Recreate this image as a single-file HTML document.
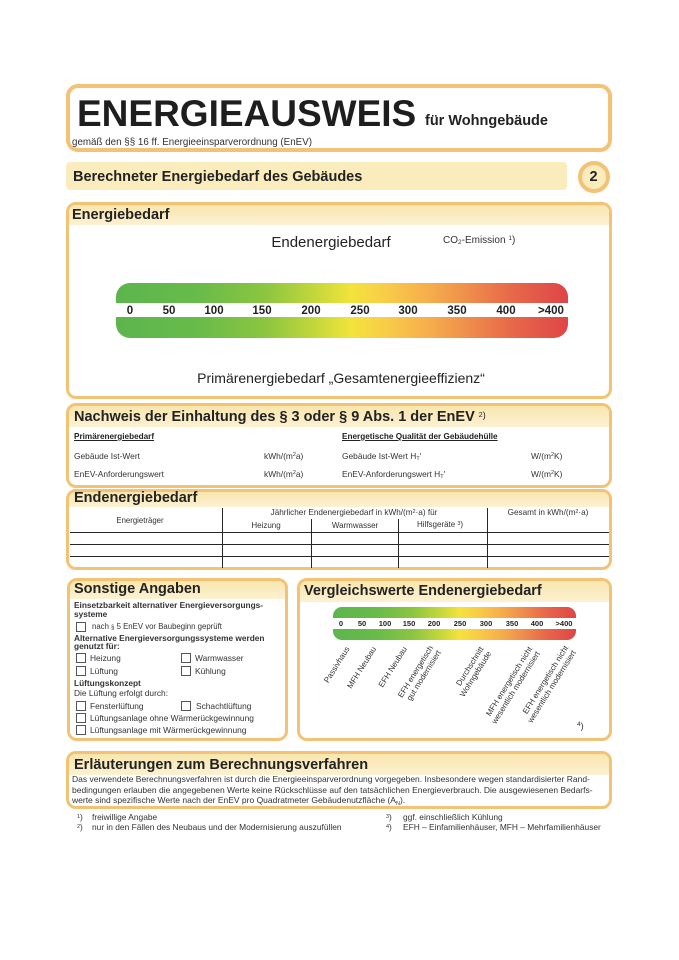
<!DOCTYPE html>
<html><head><meta charset="utf-8">
<style>
html,body{margin:0;padding:0;background:#fff;}
#pg{position:relative;width:679px;height:960px;overflow:hidden;background:#fff;font-family:"Liberation Sans",Arial,sans-serif;}
.t{position:absolute;white-space:nowrap;line-height:1;color:#222;}
.b{font-weight:bold;}
.c{text-align:center;width:240px;margin-left:-120px;}
.box{position:absolute;box-sizing:border-box;border:3.5px solid #f2c275;border-radius:10px;background:#fff;overflow:hidden;}
.band{position:absolute;left:0;right:0;top:0;background:linear-gradient(to bottom,#f9e6ae,#fcf1d2);}
.ln{position:absolute;background:#262626;}
.cb{position:absolute;width:8px;height:8px;border:1px solid #555;background:#fff;}
.sup{position:relative;top:-0.45em;font-size:0.65em;}
.sub{position:relative;top:0.25em;font-size:0.65em;}
.rl{position:absolute;white-space:nowrap;font-size:8px;line-height:9px;color:#333;text-align:right;transform-origin:100% 0;transform:rotate(-58deg);}
.n1{position:absolute;font-size:11.5px;font-weight:bold;color:#222;line-height:1;width:40px;margin-left:-20px;text-align:center;top:306px;}
.n2{position:absolute;font-size:7.5px;font-weight:bold;color:#222;line-height:1;width:30px;margin-left:-15px;text-align:center;top:620px;}
.grad{background:linear-gradient(to right,#5cb54c 0%,#68bb4a 18%,#8cc540 33%,#c3d73b 44%,#f3e33c 52%,#f8cb48 60%,#f5ab4c 70%,#ef8d4c 78%,#e86a4a 87%,#de4547 100%);}
.s{font-size:8.4px;color:#333;}
.sb{font-size:8.3px;color:#333;font-weight:bold;}
</style></head><body>
<div id="pg">

<!-- Header -->
<div class="box" style="left:66px;top:84px;width:546px;height:68px;border-width:4px;border-radius:12px;"></div>
<div class="t b" style="left:77px;top:94.5px;font-size:37px;color:#1e1e1e;">ENERGIEAUSWEIS</div>
<div class="t b" style="left:425px;top:113.7px;font-size:14.5px;">für Wohngebäude</div>
<div class="t" style="left:72px;top:137.7px;font-size:9.8px;color:#333;">gemäß den §§ 16 ff. Energieeinsparverordnung (EnEV)</div>

<!-- Section bar -->
<div style="position:absolute;left:66px;top:162px;width:501px;height:28px;background:#fbecbe;border-radius:4px;"></div>
<div class="t b" style="left:73px;top:169.7px;font-size:14.5px;">Berechneter Energiebedarf des Gebäudes</div>
<div style="position:absolute;left:578px;top:161px;width:32px;height:32px;box-sizing:border-box;border:4px solid #f2c275;border-radius:50%;background:#fbecbe;"></div>
<div class="t b" style="left:589.5px;top:170px;font-size:14.5px;">2</div>

<!-- Energiebedarf -->
<div class="box" style="left:66px;top:202px;width:546px;height:197px;"><div class="band" style="height:20px;"></div></div>
<div class="t b" style="left:72px;top:207.7px;font-size:14.5px;">Energiebedarf</div>
<div class="t c" style="left:331px;top:235.3px;font-size:15px;">Endenergiebedarf</div>
<div class="t" style="left:443px;top:235.5px;font-size:10px;color:#333;">CO<span class="sub">2</span>-Emission <span class="sup">1</span>)</div>
<div class="grad" style="position:absolute;left:116px;top:283px;width:452px;height:55px;border-radius:14px;"></div>
<div style="position:absolute;left:110px;top:303px;width:465px;height:14px;background:#fff;"></div>
<div class="n1" style="left:130px;">0</div>
<div class="n1" style="left:169px;">50</div>
<div class="n1" style="left:214px;">100</div>
<div class="n1" style="left:262px;">150</div>
<div class="n1" style="left:311px;">200</div>
<div class="n1" style="left:360px;">250</div>
<div class="n1" style="left:408px;">300</div>
<div class="n1" style="left:457px;">350</div>
<div class="n1" style="left:506px;">400</div>
<div class="n1" style="left:551px;">&gt;400</div>
<div class="t c" style="left:341px;top:371.1px;font-size:14px;width:340px;margin-left:-170px;">Primärenergiebedarf „Gesamtenergieeffizienz“</div>

<!-- Nachweis -->
<div class="box" style="left:66px;top:403px;width:546px;height:85px;"><div class="band" style="height:21px;"></div></div>
<div class="t b" style="left:74px;top:409.7px;font-size:14.5px;">Nachweis der Einhaltung des § 3 oder § 9 Abs. 1 der EnEV <span style="font-size:9px;position:relative;top:-3px;font-weight:normal;"><span style="font-size:7px;position:relative;top:-1px;">2</span>)</span></div>
<div class="t b" style="left:74px;top:433px;font-size:8.2px;text-decoration:underline;">Primärenergiebedarf</div>
<div class="t b" style="left:342px;top:433px;font-size:8.2px;text-decoration:underline;">Energetische Qualität der Gebäudehülle</div>
<div class="t" style="left:74px;top:451.9px;font-size:8.4px;color:#333;">Gebäude Ist-Wert</div>
<div class="t" style="left:264px;top:451.9px;font-size:8.4px;color:#333;">kWh/(m<span class="sup">2</span>a)</div>
<div class="t" style="left:342px;top:451.9px;font-size:8.4px;color:#333;">Gebäude Ist-Wert H<span class="sub">T</span>'</div>
<div class="t" style="left:531px;top:451.9px;font-size:8.4px;color:#333;">W/(m<span class="sup">2</span>K)</div>
<div class="t" style="left:74px;top:469.9px;font-size:8.4px;color:#333;">EnEV-Anforderungswert</div>
<div class="t" style="left:264px;top:469.9px;font-size:8.4px;color:#333;">kWh/(m<span class="sup">2</span>a)</div>
<div class="t" style="left:342px;top:469.9px;font-size:8.4px;color:#333;">EnEV-Anforderungswert H<span class="sub">T</span>'</div>
<div class="t" style="left:531px;top:469.9px;font-size:8.4px;color:#333;">W/(m<span class="sup">2</span>K)</div>

<!-- Endenergiebedarf table -->
<div class="box" style="left:66px;top:489px;width:546px;height:81px;"><div class="band" style="height:15px;"></div></div>
<div class="t b" style="left:74px;top:490.7px;font-size:14.5px;">Endenergiebedarf</div>
<div class="t c" style="left:140px;top:517.4px;font-size:7.8px;color:#333;">Energieträger</div>
<div class="t c" style="left:354px;top:509px;font-size:8.2px;color:#333;">Jährlicher Endenergiebedarf in kWh/(m<span class="sup">2</span>·a) für</div>
<div class="t c" style="left:548px;top:509px;font-size:8.2px;color:#333;">Gesamt in kWh/(m<span class="sup">2</span>·a)</div>
<div class="t c" style="left:266px;top:522.2px;font-size:8px;color:#333;">Heizung</div>
<div class="t c" style="left:355px;top:522.2px;font-size:8px;color:#333;">Warmwasser</div>
<div class="t c" style="left:440px;top:521.2px;font-size:8px;color:#333;">Hilfsgeräte <span class="sup">3</span>)</div>
<div class="ln" style="left:70px;top:531.5px;width:539px;height:1.6px;"></div>
<div class="ln" style="left:70px;top:543.5px;width:539px;height:1.6px;"></div>
<div class="ln" style="left:70px;top:555.5px;width:539px;height:1.6px;"></div>
<div class="ln" style="left:221.5px;top:508px;width:1.5px;height:60px;"></div>
<div class="ln" style="left:486.5px;top:508px;width:1.5px;height:60px;"></div>
<div class="ln" style="left:310.5px;top:519px;width:1.5px;height:49px;"></div>
<div class="ln" style="left:397.5px;top:519px;width:1.5px;height:49px;"></div>

<!-- Sonstige Angaben -->
<div class="box" style="left:67px;top:578px;width:221px;height:163px;"><div class="band" style="height:18px;"></div></div>
<div class="t b" style="left:74px;top:581.7px;font-size:14.5px;">Sonstige Angaben</div>
<div class="t sb" style="left:74px;top:601px;">Einsetzbarkeit alternativer Energieversorgungs-</div>
<div class="t sb" style="left:74px;top:610px;">systeme</div>
<div class="cb" style="left:76px;top:622px;"></div>
<div class="t" style="left:92px;top:623.3px;font-size:7.8px;color:#333;">nach <span style="font-size:6px;">§</span> 5 EnEV vor Baubeginn geprüft</div>
<div class="t sb" style="left:74px;top:634px;">Alternative Energieversorgungssysteme werden</div>
<div class="t sb" style="left:74px;top:642px;">genutzt für:</div>
<div class="cb" style="left:76px;top:653px;"></div>
<div class="t s" style="left:90px;top:654px;">Heizung</div>
<div class="cb" style="left:181px;top:653px;"></div>
<div class="t s" style="left:195px;top:654px;">Warmwasser</div>
<div class="cb" style="left:76px;top:666px;"></div>
<div class="t s" style="left:90px;top:667px;">Lüftung</div>
<div class="cb" style="left:181px;top:666px;"></div>
<div class="t s" style="left:195px;top:667px;">Kühlung</div>
<div class="t sb" style="left:74px;top:679px;">Lüftungskonzept</div>
<div class="t s" style="left:74px;top:689px;">Die Lüftung erfolgt durch:</div>
<div class="cb" style="left:76px;top:701px;"></div>
<div class="t s" style="left:90px;top:702px;">Fensterlüftung</div>
<div class="cb" style="left:181px;top:701px;"></div>
<div class="t s" style="left:196px;top:702px;">Schachtlüftung</div>
<div class="cb" style="left:76px;top:713px;"></div>
<div class="t s" style="left:90px;top:714px;">Lüftungsanlage ohne Wärmerückgewinnung</div>
<div class="cb" style="left:76px;top:725px;"></div>
<div class="t s" style="left:90px;top:726px;">Lüftungsanlage mit Wärmerückgewinnung</div>

<!-- Vergleichswerte -->
<div class="box" style="left:297px;top:578px;width:315px;height:163px;"><div class="band" style="height:21px;"></div></div>
<div class="t b" style="left:304px;top:583.7px;font-size:14.5px;">Vergleichswerte Endenergiebedarf</div>
<div class="grad" style="position:absolute;left:333px;top:607px;width:243px;height:33px;border-radius:9px;"></div>
<div style="position:absolute;left:330px;top:617.5px;width:250px;height:11px;background:#fff;"></div>
<div class="n2" style="left:341px;">0</div>
<div class="n2" style="left:362px;">50</div>
<div class="n2" style="left:385px;">100</div>
<div class="n2" style="left:409px;">150</div>
<div class="n2" style="left:434px;">200</div>
<div class="n2" style="left:460px;">250</div>
<div class="n2" style="left:486px;">300</div>
<div class="n2" style="left:512px;">350</div>
<div class="n2" style="left:537px;">400</div>
<div class="n2" style="left:564px;">&gt;400</div>
<div class="rl" style="right:335px;top:645px;">Passivhaus</div>
<div class="rl" style="right:308px;top:645px;">MFH Neubau</div>
<div class="rl" style="right:278px;top:645px;">EFH Neubau</div>
<div class="rl" style="right:251px;top:644px;">EFH energetisch<br>gut modernisiert</div>
<div class="rl" style="right:201px;top:645px;">Durchschnitt<br>Wohngebäude</div>
<div class="rl" style="right:152px;top:645px;">MFH energetisch nicht<br>wesentlich modernisiert</div>
<div class="rl" style="right:116px;top:644px;">EFH energetisch nicht<br>wesentlich modernisiert</div>
<div class="t" style="left:577px;top:722px;font-size:9px;color:#333;"><span style="font-size:6.5px;position:relative;top:-3px;">4</span>)</div>

<!-- Erläuterungen -->
<div class="box" style="left:66px;top:751px;width:546px;height:58px;"><div class="band" style="height:21px;"></div></div>
<div class="t b" style="left:74px;top:757.7px;font-size:14.5px;">Erläuterungen zum Berechnungsverfahren</div>
<div class="t" style="left:72px;top:775px;font-size:8.5px;color:#333;">Das verwendete Berechnungsverfahren ist durch die Energieeinsparverordnung vorgegeben. Insbesondere wegen standardisierter Rand-</div>
<div class="t" style="left:72px;top:785.6px;font-size:8.5px;color:#333;">bedingungen erlauben die angegebenen Werte keine Rückschlüsse auf den tatsächlichen Energieverbrauch. Die ausgewiesenen Bedarfs-</div>
<div class="t" style="left:72px;top:796.2px;font-size:8.5px;color:#333;">werte sind spezifische Werte nach der EnEV pro Quadratmeter Gebäudenutzfläche (A<span class="sub">N</span>).</div>

<!-- Footnotes -->
<div class="t" style="left:77px;top:813px;font-size:8.4px;color:#333;"><span class="sup">1</span>)</div>
<div class="t" style="left:92px;top:813px;font-size:8.4px;color:#333;">freiwillige Angabe</div>
<div class="t" style="left:77px;top:823px;font-size:8.4px;color:#333;"><span class="sup">2</span>)</div>
<div class="t" style="left:92px;top:823px;font-size:8.4px;color:#333;">nur in den Fällen des Neubaus und der Modernisierung auszufüllen</div>
<div class="t" style="left:386px;top:813px;font-size:8.4px;color:#333;"><span class="sup">3</span>)</div>
<div class="t" style="left:403px;top:813px;font-size:8.4px;color:#333;">ggf. einschließlich Kühlung</div>
<div class="t" style="left:386px;top:823px;font-size:8.4px;color:#333;"><span class="sup">4</span>)</div>
<div class="t" style="left:403px;top:823px;font-size:8.4px;color:#333;">EFH – Einfamilienhäuser, MFH – Mehrfamilienhäuser</div>

</div>
</body></html>
